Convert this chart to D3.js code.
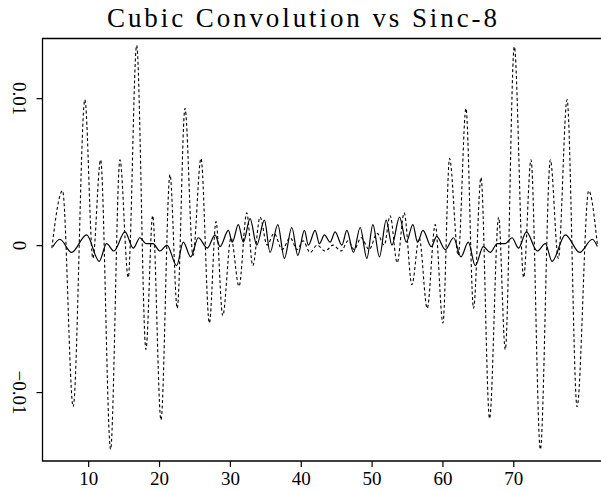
<!DOCTYPE html>
<html>
<head>
<meta charset="utf-8">
<script src="https://cdn.jsdelivr.net/npm/d3@7"></script>
<style>
  html, body { margin: 0; padding: 0; background: #fff; }
  svg { display: block; }
  text { font-family: "Liberation Serif", "DejaVu Serif", serif; fill: #000; }
</style>
</head>
<body>
<script>
// Sinc-8 interpolation error (dashed) at turning points
const sincX = [4.87, 6.38, 7.88, 9.53, 10.66, 11.75, 13.16, 14.48, 15.65, 16.84,
    18.15, 19.10, 20.27, 21.54, 22.57, 23.66, 24.79, 25.92, 27.10, 28.04,
    28.99, 30.16, 31.29, 32.38, 33.23, 34.26, 35.25, 36.24, 37.37, 38.50,
    39.49, 40.33, 41.32, 42.31, 43.44, 44.57, 45.70, 46.69, 47.54, 48.53,
    49.66, 50.79, 51.78, 52.62, 53.61, 54.60, 55.69, 56.72, 57.85, 58.98,
    60.07, 61.00, 62.23, 63.32, 64.39, 65.44, 66.65, 67.93, 68.87, 70.14,
    71.46, 72.50, 73.82, 75.23, 76.36, 77.59, 79.00, 80.64, 81.87];
const sincY = [-0.0002, 0.0037, -0.0110, 0.0099, -0.0009, 0.0058, -0.0139, 0.0058, -0.0022, 0.0136,
    -0.0071, 0.0020, -0.0119, 0.0048, -0.0043, 0.0093, -0.0007, 0.0059, -0.0053, 0.0016,
    -0.0048, 0.0005, -0.0028, 0.0022, -0.0014, 0.0019, 0.0000, 0.0008, -0.0003, 0.0005,
    -0.0003, 0.0003, -0.0005, 0.0000, -0.0004, 0.0000, -0.0004, 0.0003, -0.0003, 0.0005,
    -0.0003, 0.0008, 0.0000, 0.0020, -0.0012, 0.0022, -0.0027, 0.0005, -0.0043, 0.0014,
    -0.0053, 0.0059, -0.0007, 0.0093, -0.0043, 0.0046, -0.0118, 0.0019, -0.0071, 0.0135,
    -0.0022, 0.0058, -0.0139, 0.0058, -0.0009, 0.0099, -0.0110, 0.0037, 0.0000];

// cubic convolution error (solid)
const cubicX = [5.01, 6.00, 7.65, 9.77, 11.55, 12.60, 13.63, 15.19, 16.36, 17.30,
    18.15, 19.14, 20.13, 21.12, 22.49, 23.42, 24.47, 25.54, 26.81, 27.90,
    28.61, 29.78, 30.34, 31.19, 31.90, 32.85, 33.79, 34.87, 35.67, 36.76,
    37.69, 38.74, 39.58, 40.52, 41.08, 42.03, 42.64, 43.34, 44.15, 44.85,
    45.80, 46.51, 47.44, 48.39, 49.33, 50.18, 51.11, 52.06, 52.87, 53.94,
    54.89, 55.83, 56.48, 57.25, 58.42, 59.19, 60.40, 61.57, 62.61, 63.65,
    64.63, 65.77, 66.75, 67.74, 68.87, 69.82, 70.75, 71.84, 73.39, 74.52,
    75.47, 77.35, 79.37, 81.16, 81.87];
const cubicY = [-0.0001, 0.0004, -0.0005, 0.0007, -0.0011, 0.0001, -0.0004, 0.0009, -0.0002, 0.0005,
    0.0001, 0.0001, -0.0004, 0.0000, -0.0014, 0.0002, -0.0008, 0.0005, -0.0002, 0.0007,
    -0.0001, 0.0010, 0.0002, 0.0014, 0.0002, 0.0018, 0.0000, 0.0017, -0.0005, 0.0014,
    -0.0009, 0.0012, -0.0007, 0.0010, 0.0000, 0.0010, 0.0001, 0.0007, 0.0002, 0.0009,
    0.0000, 0.0010, -0.0005, 0.0012, -0.0009, 0.0014, -0.0008, 0.0017, 0.0000, 0.0019,
    0.0002, 0.0014, 0.0002, 0.0010, -0.0001, 0.0006, -0.0003, 0.0005, -0.0008, 0.0002,
    -0.0014, -0.0001, -0.0005, 0.0001, 0.0001, 0.0005, -0.0002, 0.0009, -0.0004, 0.0001,
    -0.0011, 0.0007, -0.0005, 0.0004, -0.0001];

const xTicks = [10, 20, 30, 40, 50, 60, 70];
const yTicks = [-0.01, 0, 0.01];
const yTickLabels = ["\u22120.01", "0", "0.01"];

const width = 601, height = 491;
const plotLeft = 42.5, plotTop = 38.5, plotBottom = 461;

const x = d3.scaleLinear().domain([3.55, 82.45]).range([plotLeft, 601.5]);
const y = d3.scaleLinear().domain([-0.01469, 0.01406]).range([plotBottom, plotTop]);

const svg = d3.select("body").append("svg")
    .attr("width", width)
    .attr("height", height);

// title
svg.append("text")
    .attr("x", 302)
    .attr("y", 27)
    .attr("text-anchor", "middle")
    .attr("font-size", 27)
    .attr("textLength", 390)
    .attr("lengthAdjust", "spacing")
    .text("Cubic Convolution vs Sinc-8");

// frame
svg.append("path")
    .attr("d", `M${width + 2},${plotTop}H${plotLeft}V${plotBottom}H${width + 2}`)
    .attr("fill", "none")
    .attr("stroke", "#000")
    .attr("stroke-width", 1.3);

// x axis
const xAxis = svg.append("g")
    .attr("transform", `translate(0,${plotBottom})`)
    .call(d3.axisBottom(x).tickValues(xTicks).tickSize(6).tickPadding(5).tickFormat(d3.format("d")));
xAxis.select(".domain").remove();
xAxis.selectAll("line").attr("stroke-width", 1.2);
xAxis.selectAll("text")
    .attr("font-family", "Liberation Serif, DejaVu Serif, serif")
    .attr("font-size", 19);

// y axis, labels turned
const yAxis = svg.append("g")
    .attr("transform", `translate(${plotLeft},0)`)
    .call(d3.axisLeft(y).tickValues(yTicks).tickSize(6).tickFormat((d, i) => yTickLabels[i]));
yAxis.select(".domain").remove();
yAxis.selectAll("line").attr("stroke-width", 1.2);
yAxis.selectAll("text").remove();
yAxis.selectAll(".tick").append("text")
    .attr("transform", `translate(${13 - plotLeft},0) rotate(90)`)
    .attr("text-anchor", "middle")
    .attr("font-family", "Liberation Serif, DejaVu Serif, serif")
    .attr("font-size", 19)
    .text((d, i) => yTickLabels[i]);

const line = d3.line()
    .x(d => x(d[0]))
    .y(d => y(d[1]))
    .curve(d3.curveMonotoneX);

svg.append("path")
    .datum(sincX.map((v, i) => [v, sincY[i]]))
    .attr("d", line)
    .attr("fill", "none")
    .attr("stroke", "#000")
    .attr("stroke-width", 1.1)
    .attr("stroke-dasharray", "3,2.5");

svg.append("path")
    .datum(cubicX.map((v, i) => [v, cubicY[i]]))
    .attr("d", line)
    .attr("fill", "none")
    .attr("stroke", "#000")
    .attr("stroke-width", 1.2);
</script>
</body>
</html>
